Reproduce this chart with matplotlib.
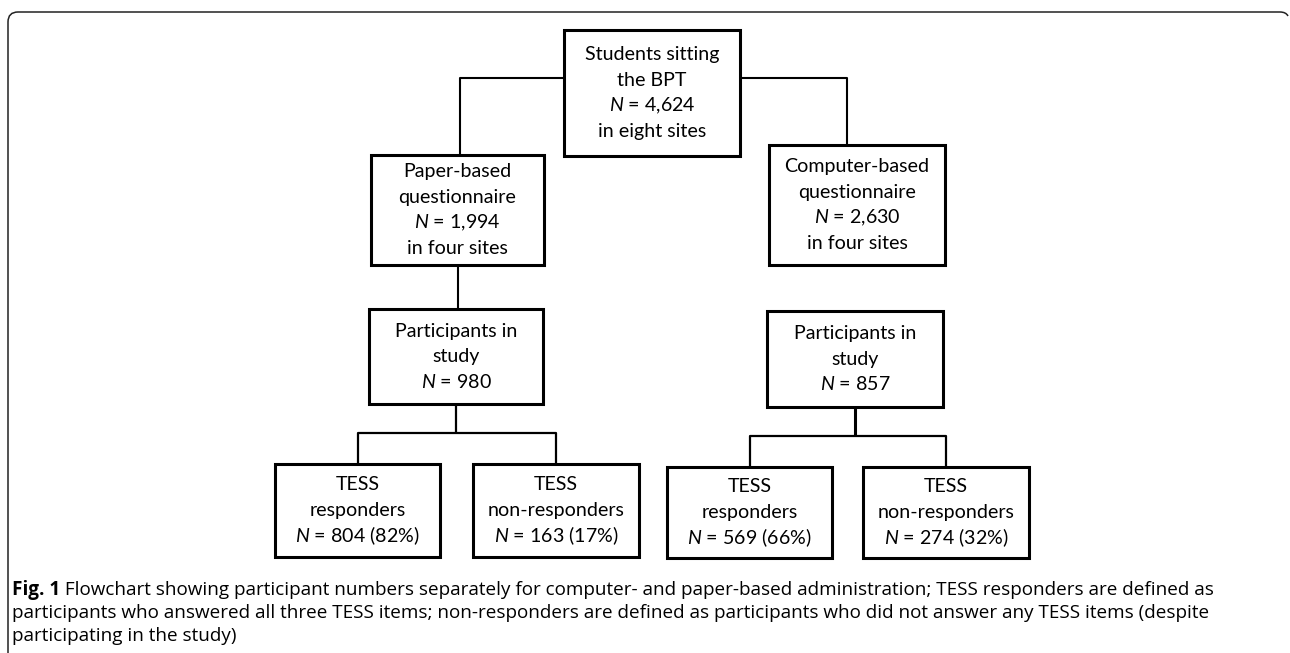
import matplotlib.pyplot as plt
from matplotlib.patches import Rectangle, PathPatch
from matplotlib.path import Path

BOX_FONT = "Lato"
CAP_FONT = "Open Sans"
plt.rcParams["font.family"] = [BOX_FONT, "DejaVu Sans"]
plt.rcParams["mathtext.fontset"] = "custom"
plt.rcParams["mathtext.rm"] = BOX_FONT
plt.rcParams["mathtext.it"] = BOX_FONT + ":italic"

# ---- data ----
total_n = 4624
total_sites = "eight"
modes = ["Paper-based", "Computer-based"]
mode_n = [1994, 2630]
mode_sites = ["four", "four"]
study_n = [980, 857]
resp_n = [804, 569]
resp_pct = [82, 66]
nonresp_n = [163, 274]
nonresp_pct = [17, 32]
caption_bold = "Fig. 1"
caption_lines = [
    " Flowchart showing participant numbers separately for computer- and paper-based administration; TESS responders are defined as",
    "participants who answered all three TESS items; non-responders are defined as participants who did not answer any TESS items (despite",
    "participating in the study)",
]

# ---- layout (pixels, y down) ----
W, H = 1290, 653
top_box = (564, 30, 740, 156)
mode_boxes = [(371, 155, 544, 265), (769, 145, 945, 265)]
study_boxes = [(369, 309, 543, 404), (767, 311, 943, 407)]
resp_boxes = [(275, 464, 440, 557), (667, 467, 832, 558)]
nonresp_boxes = [(473, 464, 639, 557), (863, 467, 1029, 558)]
LINE_GAP = 25.5

fig = plt.figure(figsize=(W / 100, H / 100), dpi=100)
ax = fig.add_axes([0, 0, 1, 1])
ax.set_xlim(0, W)
ax.set_ylim(H, 0)
ax.axis("off")
renderer = fig.canvas.get_renderer()


def fit_size(text, target_px, family, weight="normal"):
    # pick a font size so that `text` is about target_px wide
    t = ax.text(0, 0, text, fontsize=10, family=family, fontweight=weight)
    w = t.get_window_extent(renderer).width
    t.remove()
    return 10 * target_px / w


FS = fit_size("Students sitting", 135, BOX_FONT)
CFS = fit_size("participants who answered all three TESS item", 405, CAP_FONT)


def box(b, lines):
    x0, y0, x1, y1 = b
    ax.add_patch(Rectangle((x0, y0), x1 - x0, y1 - y0, fill=False,
                           lw=2.2, ec="black", joinstyle="miter"))
    cx, cy = (x0 + x1) / 2, (y0 + y1) / 2
    start = cy - LINE_GAP * (len(lines) - 1) / 2
    for i, t in enumerate(lines):
        ax.text(cx, start + i * LINE_GAP, t, ha="center", va="center",
                fontsize=FS, color="black")


def mid(b):
    return (b[0] + b[2]) / 2


def conn(xs, ys, lw=1.5):
    ax.plot(xs, ys, color="black", lw=lw, solid_capstyle="butt")


# outer frame (rounded top corners, open bottom)
r = 10
verts = [(8, H), (8, 12 + r), (8, 12), (8 + r, 12), (1280, 12), (1286, 12), (1288, 16)]
codes = [Path.MOVETO, Path.LINETO, Path.CURVE3, Path.CURVE3, Path.LINETO, Path.CURVE3, Path.CURVE3]
ax.add_patch(PathPatch(Path(verts, codes), fill=False, lw=1.1, ec="#222222"))

# boxes
box(top_box, ["Students sitting", "the BPT", rf"$N$ = {total_n:,}", f"in {total_sites} sites"])
for i in range(2):
    box(mode_boxes[i], [modes[i], "questionnaire", rf"$N$ = {mode_n[i]:,}", f"in {mode_sites[i]} sites"])
    box(study_boxes[i], ["Participants in", "study", rf"$N$ = {study_n[i]}"])
    box(resp_boxes[i], ["TESS", "responders", rf"$N$ = {resp_n[i]} ({resp_pct[i]}%)"])
    box(nonresp_boxes[i], ["TESS", "non-responders", rf"$N$ = {nonresp_n[i]} ({nonresp_pct[i]}%)"])

# connectors from top box
ty = 78
conn([top_box[0], 460, 460], [ty, ty, mode_boxes[0][1]])
conn([top_box[2], 847, 847], [ty, ty, mode_boxes[1][1]])
# mode -> study (paper side only)
conn([458, 458], [mode_boxes[0][3], study_boxes[0][1]])
# study -> split
bar_y = [433, 436]
for i in range(2):
    sx = mid(study_boxes[i])
    rx, nx = mid(resp_boxes[i]), mid(nonresp_boxes[i])
    lw = 1.6 if i == 0 else 2.2
    conn([sx, sx], [study_boxes[i][3], bar_y[i]], lw=lw)
    conn([rx, rx, nx, nx], [resp_boxes[i][1], bar_y[i], bar_y[i], nonresp_boxes[i][1]], lw=1.6)

# caption
cy0, cgap = 590, 23
fb = ax.text(12, cy0, caption_bold, fontsize=CFS, family=CAP_FONT,
             fontweight="bold", va="center", ha="left")
bb = fb.get_window_extent(renderer)
x_after = ax.transData.inverted().transform((bb.x1, 0))[0]
ax.text(x_after, cy0, caption_lines[0], fontsize=CFS, family=CAP_FONT, va="center", ha="left")
for i, t in enumerate(caption_lines[1:], start=1):
    ax.text(12, cy0 + i * cgap, t, fontsize=CFS, family=CAP_FONT, va="center", ha="left")

fig.savefig("out.png", dpi=100)
